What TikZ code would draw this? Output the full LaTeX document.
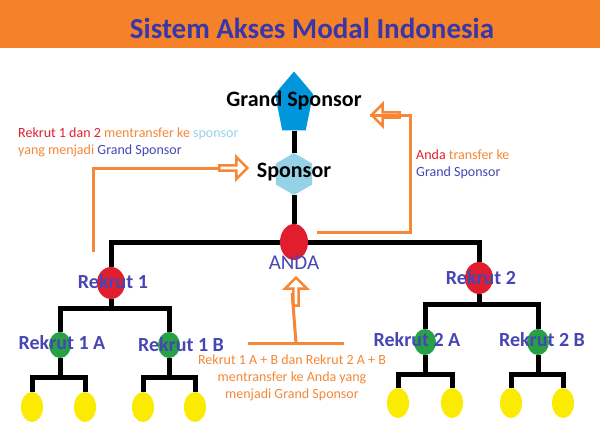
\documentclass[tikz,border=0pt]{standalone}
\usepackage{fontspec}
\setmainfont{Carlito}
\usetikzlibrary{positioning}
\usetikzlibrary{backgrounds}
\usetikzlibrary{shapes.geometric}
\usetikzlibrary{shapes.arrows}
\definecolor{hdr}{RGB}{245,130,40}
\definecolor{ttl}{RGB}{55,55,170}
\definecolor{lbl}{RGB}{70,70,180}
\definecolor{ora}{RGB}{245,135,55}
\definecolor{rd}{RGB}{225,30,45}
\definecolor{gsp}{RGB}{0,150,220}
\definecolor{spc}{RGB}{150,210,230}
\definecolor{grn}{RGB}{40,160,70}
\definecolor{ylw}{RGB}{250,235,0}
\tikzstyle{every node}+=[inner sep=0pt]
\tikzstyle{rednode} = [ellipse, fill=rd, minimum width=28pt, minimum height=32pt]
\tikzstyle{greennode} = [ellipse, fill=grn, minimum width=22pt, minimum height=26pt]
\tikzstyle{yellownode} = [ellipse, fill=ylw, minimum width=22pt, minimum height=30pt]
\tikzstyle{member} = [text=lbl, font=\fontsize{20}{20}\selectfont\bfseries]
\tikzstyle{top} = [font=\fontsize{22}{22}\selectfont\bfseries]
\tikzstyle{note} = [font=\fontsize{14}{17}\selectfont, align=left]
\tikzstyle{tree} = [draw, line width=5pt]
\tikzstyle{line} = [draw=ora, line width=3pt]
\tikzstyle{hollow} = [single arrow, draw=ora, fill=white, line width=2.5pt, minimum height=28pt, minimum width=22pt, single arrow head extend=4pt]

\begin{document}
\begin{tikzpicture}[x=1pt, y=-1pt]
            \useasboundingbox (0,0) rectangle (600,445);
            % Header
            \fill [hdr] (0,0) rectangle (600,48);
            \node [text=ttl, font=\fontsize{29}{29}\selectfont\bfseries] (title) at (312,28) {Sistem Akses Modal Indonesia};
            % Place nodes
            \node [regular polygon, regular polygon sides=5, fill=gsp, minimum size=50pt, yscale=1.3, xscale=0.8] (gs) at (294,104) {};
            \node [top] (gst) at (294,101) {Grand Sponsor};
            \node [regular polygon, regular polygon sides=6, shape border rotate=30, fill=spc, minimum size=42pt] (sp) at (294,174) {};
            \node [top] (spt) at (294,172) {Sponsor};
            \node [rednode, minimum height=36pt] (anda) at (294,242) {};
            \node [text=lbl, font=\fontsize{21}{21}\selectfont] (andat) at (294,263) {ANDA};
            \node [rednode] (r1) at (111,283) {};
            \node [member] (r1t) at (113,282) {Rekrut 1};
            \node [rednode] (r2) at (479,278) {};
            \node [member] (r2t) at (481,278) {Rekrut 2};
            \node [greennode] (r1a) at (60,345) {};
            \node [member] (r1at) at (62,343) {Rekrut 1 A};
            \node [greennode] (r1b) at (169,345) {};
            \node [member] (r1bt) at (181,345) {Rekrut 1 B};
            \node [greennode] (r2a) at (425,342) {};
            \node [member] (r2at) at (417,340) {Rekrut 2 A};
            \node [greennode] (r2b) at (538,342) {};
            \node [member] (r2bt) at (542,340) {Rekrut 2 B};
            \foreach \n/\x/\y in {y1/32/407, y2/85/407, y3/143/407, y4/195/407, y5/398/403, y6/452/403, y7/511/403, y8/563/403}
              \node [yellownode] (\n) at (\x,\y) {};
            % Draw edges
            \begin{pgfonlayer}{background}
            \path [tree] (gs) -- (sp);
            \path [tree] (sp) -- (anda);
            \path [tree] (r1) |- (anda) -| (r2);
            \path [tree] (r1) -- (111,308);
            \path [tree] (r1a) |- (111,308) -| (r1b);
            \path [tree] (r2) -- (479,304);
            \path [tree] (r2a) |- (479,304) -| (r2b);
            \path [tree] (r1a) -- (60,377);
            \path [tree] (y1) |- (60,377) -| (y2);
            \path [tree] (r1b) -- (169,377);
            \path [tree] (y3) |- (169,377) -| (y4);
            \path [tree] (r2a) -- (425,374);
            \path [tree] (y5) |- (425,374) -| (y6);
            \path [tree] (r2b) -- (538,374);
            \path [tree] (y7) |- (538,374) -| (y8);
            \end{pgfonlayer}
            % Transfers
            \node [hollow] (a1) at (232,168) {};
            \node [hollow, shape border rotate=180] (a2) at (387,115) {};
            \node [hollow, shape border rotate=90] (a3) at (296,293) {};
            \coordinate (c1) at (93,252);
            \coordinate (c2) at (317,232);
            \coordinate (c3) at (248,343);
            \coordinate (c4) at (344,343);
            \coordinate (c5) at (296,343);
            \path [line] (c1) |- (a1.west);
            \path [line] (c2) -| (410,115) -- (a2.west);
            \path [line] (c3) -- (c4);
            \path [line] (c5) -- (a3.west);
            \node [note, anchor=west] (n1) at (18,142) {\textcolor{rd}{Rekrut 1 dan 2} \textcolor{ora}{mentransfer ke} \textcolor{spc}{sponsor}\\ \textcolor{ora}{yang menjadi} \textcolor{lbl}{Grand Sponsor}};
            \node [note, anchor=west] (n2) at (416,164) {\textcolor{rd}{Anda} \textcolor{ora}{transfer ke}\\ \textcolor{lbl}{Grand Sponsor}};
            \node [note, align=center, text=ora, anchor=north] (n3) at (292,355) {Rekrut 1 A + B dan Rekrut 2 A + B\\ mentransfer ke Anda yang\\ menjadi Grand Sponsor};
\end{tikzpicture}
\end{document}
